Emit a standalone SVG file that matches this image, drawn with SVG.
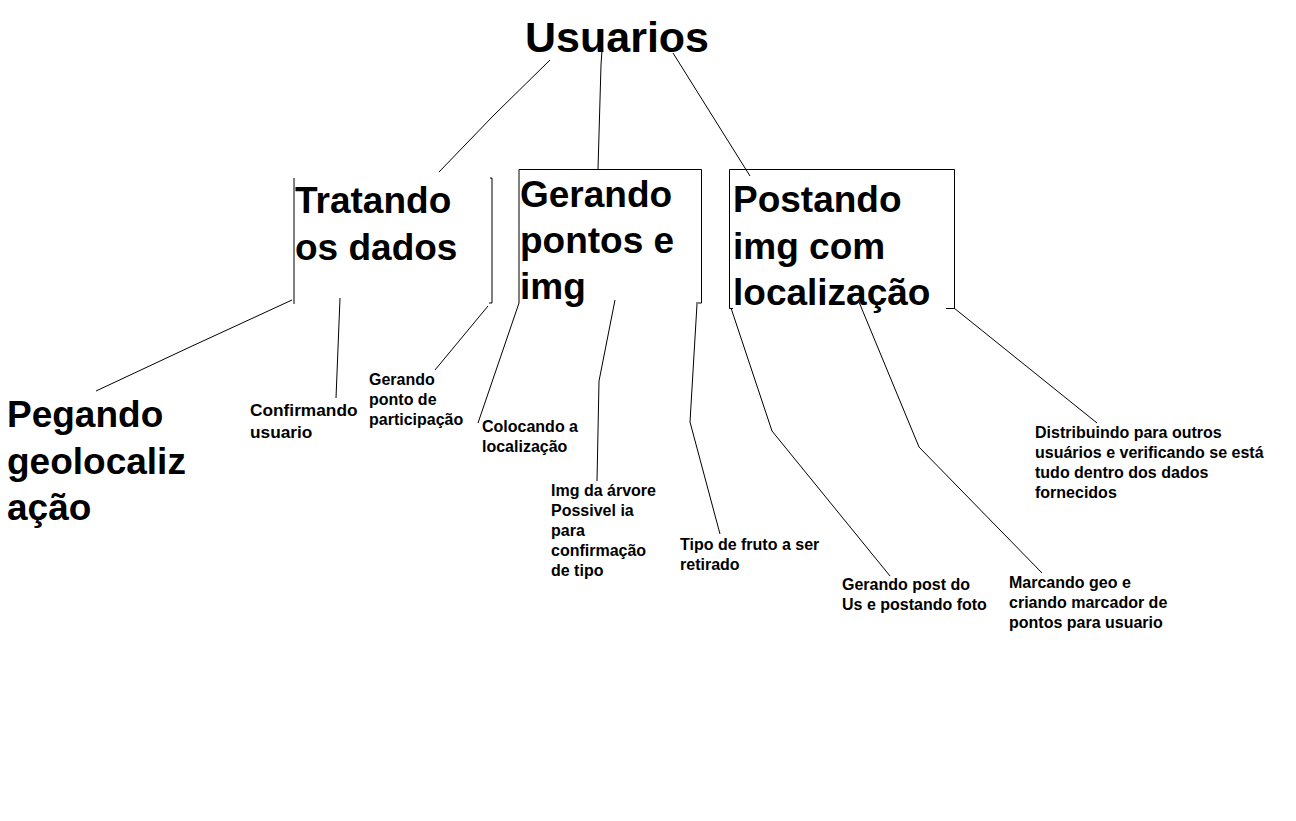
<svg xmlns="http://www.w3.org/2000/svg" width="1296" height="821" viewBox="0 0 1296 821">
<style>
text{font-family:"Liberation Sans",Arial,sans-serif;font-weight:bold;fill:#000}
.t{font-size:43px}
.b{font-size:37px}
.s{font-size:16px}
.m{font-size:17.3px}
.ln{fill:none;stroke:#000;stroke-width:1}
</style>
<rect width="1296" height="821" fill="#fff"/>
<g id="connectors" class="ln">
<polyline class="ln" points="550,60 493,116 439,172"/>
<polyline class="ln" points="602,50 601,65 598,169"/>
<polyline class="ln" points="673,53 750,176"/>
<polyline class="ln" points="292,300 190,347 96,391"/>
<polyline class="ln" points="340,298 336,398"/>
<polyline class="ln" points="488,306 435,370"/>
<polyline class="ln" points="519,303 478,423"/>
<polyline class="ln" points="615,300 599,381 597,481"/>
<polyline class="ln" points="697,304 690,422 720,534"/>
<polyline class="ln" points="731,308 772,431 890,576"/>
<polyline class="ln" points="859,302 919,447 1042,573"/>
<polyline class="ln" points="954,308 1097,423"/>
</g>
<g id="usuarios"><text class="t" x="525" y="52">Usuarios</text></g>
<g id="tratando">
<polyline class="ln" points="294,178 294,304"/>
<polyline class="ln" points="490,178 492,178 492,303 489,303"/>
<text class="b" x="295" y="213">Tratando</text>
<text class="b" x="295" y="260">os dados</text>
</g>
<g id="gerando">
<polyline class="ln" points="519,303 519,169.5 701.5,169.5 701.5,303 696,303"/>
<text class="b" x="520" y="207">Gerando</text>
<text class="b" x="520" y="253">pontos e</text>
<text class="b" x="520" y="299">img</text>
</g>
<g id="postando">
<polyline class="ln" points="733,308.5 729.5,308.5 729.5,169.5 954.5,169.5 954.5,308.5 946,308.5"/>
<text class="b" x="733" y="212">Postando</text>
<text class="b" x="733" y="259">img com</text>
<text class="b" x="733" y="305">localização</text>
</g>
<g id="pegando">
<text class="b" x="7" y="427">Pegando</text>
<text class="b" x="7" y="474">geolocaliz</text>
<text class="b" x="7" y="520">ação</text>
</g>
<g id="confirmando">
<text class="m" x="250" y="416">Confirmando</text>
<text class="m" x="250" y="438">usuario</text>
</g>
<g id="gerando-ponto">
<text class="s" x="369" y="385">Gerando</text>
<text class="s" x="369" y="405">ponto de</text>
<text class="s" x="369" y="425">participação</text>
</g>
<g id="colocando">
<text class="s" x="482" y="432">Colocando a</text>
<text class="s" x="482" y="452">localização</text>
</g>
<g id="img-arvore">
<text class="s" x="551" y="496">Img da árvore</text>
<text class="s" x="551" y="516">Possivel ia</text>
<text class="s" x="551" y="536">para</text>
<text class="s" x="551" y="556">confirmação</text>
<text class="s" x="551" y="576">de tipo</text>
</g>
<g id="tipo-fruto">
<text class="s" x="680" y="550">Tipo de fruto a ser</text>
<text class="s" x="680" y="570">retirado</text>
</g>
<g id="gerando-post">
<text class="s" x="842" y="590">Gerando post do</text>
<text class="s" x="842" y="610">Us e postando foto</text>
</g>
<g id="marcando">
<text class="s" x="1009" y="588">Marcando geo e</text>
<text class="s" x="1009" y="608">criando marcador de</text>
<text class="s" x="1009" y="628">pontos para usuario</text>
</g>
<g id="distribuindo">
<text class="s" x="1035" y="438">Distribuindo para outros</text>
<text class="s" x="1035" y="458">usuários e verificando se está</text>
<text class="s" x="1035" y="478">tudo dentro dos dados</text>
<text class="s" x="1035" y="498">fornecidos</text>
</g>
</svg>
